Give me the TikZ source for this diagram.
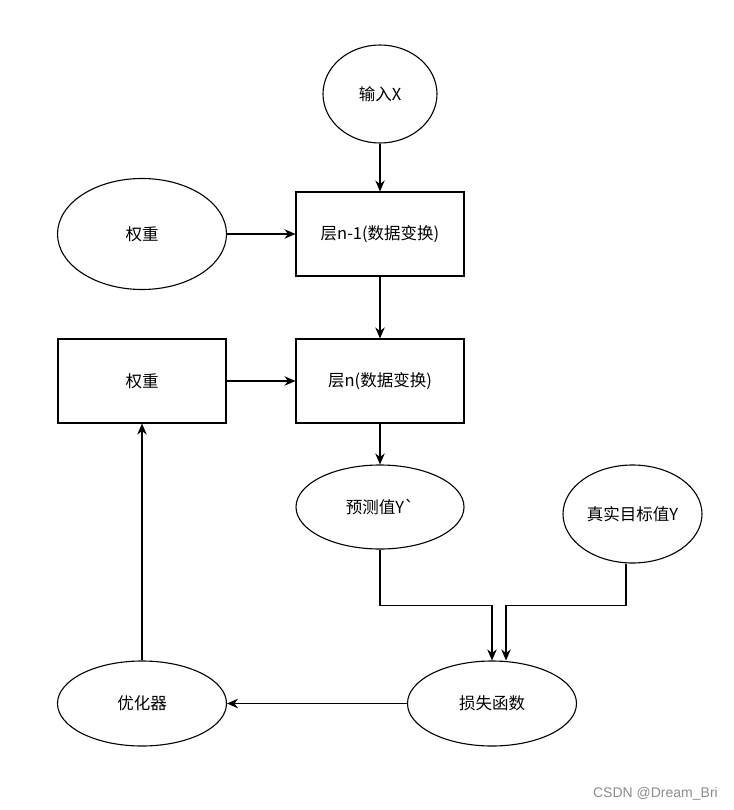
\documentclass[tikz,border=0pt]{standalone}
\usepackage{fontspec}
\newfontfamily\cjk{Noto Sans CJK SC}
\newfontfamily\wmfont{Liberation Sans}
\usetikzlibrary{arrows.meta,shapes.geometric,calc}
\begin{document}
\begin{tikzpicture}[x=1pt,y=-1pt,
  base/.style={draw=black,line width=1.1pt,font=\cjk\fontsize{16.5}{19}\selectfont,inner sep=0pt,align=center},
  ell/.style={base,ellipse},
  box/.style={base,rectangle},
  arr/.style={draw=black,line width=1.1pt,-{Stealth[length=11pt,width=9.5pt,inset=3.5pt]}},
  ln/.style={draw=black,line width=1.1pt}]
\useasboundingbox (0,0) rectangle (733,810);
\fill[white] (0,0) rectangle (733,810);
\node[ell,minimum width=114pt,minimum height=98pt] (inX) at (380,94) {输入X};
\node[box,minimum width=168pt,minimum height=84pt] (L1) at (380,234) {层n-1(数据变换)};
\node[ell,minimum width=169pt,minimum height=111pt] (W1) at (142,234) {权重};
\node[box,minimum width=168pt,minimum height=84pt] (L2) at (380,381) {层n(数据变换)};
\node[box,minimum width=168pt,minimum height=84pt] (W2) at (142,381) {权重};
\node[ell,minimum width=168pt,minimum height=84pt] (pred) at (380,507) {预测值Y`};
\node[ell,minimum width=139pt,minimum height=98pt] (true) at (632.5,514) {真实目标值Y};
\node[ell,minimum width=169pt,minimum height=85pt] (loss) at (492,703.5) {损失函数};
\node[ell,minimum width=169pt,minimum height=85pt] (opt) at (142,703.5) {优化器};
\node[font=\wmfont\fontsize{14}{16}\selectfont,text=black!45,anchor=east,inner sep=0pt] (wm) at (718,794) {CSDN @Dream\_Bri};
\draw[arr] (inX.south) -- (L1.north);
\draw[arr] (W1.east) -- (L1.west);
\draw[arr] (L1.south) -- (L2.north);
\draw[arr] (W2.east) -- (L2.west);
\draw[arr] (L2.south) -- (pred.north);
\draw[arr] (pred.south) -- ++(0,56) -| (loss.north);
\draw[arr] ([xshift=-6.5pt]true.south) -- ++(0,42) -| ([xshift=14pt]loss.north);
\draw[arr] (loss.west) -- (opt.east);
\draw[arr] (opt.north) -- (W2.south);
\end{tikzpicture}
\end{document}
